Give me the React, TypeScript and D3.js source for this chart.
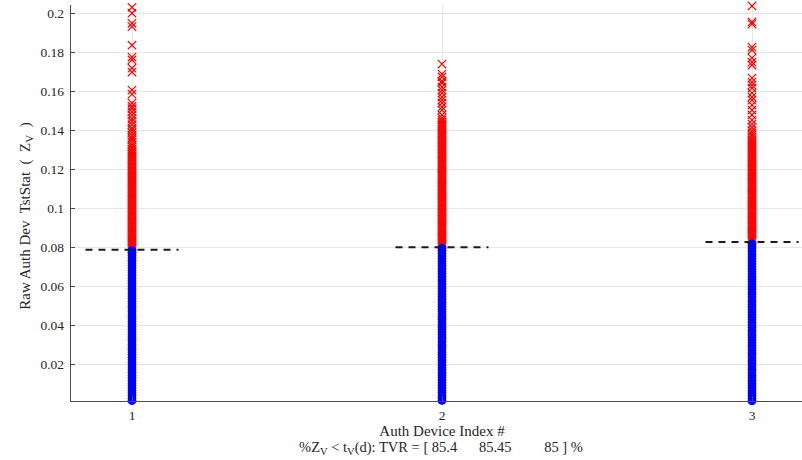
import React from "react";
import * as d3 from "d3";

// Device indices and per-device decision thresholds t_V(d)
const DEVICES = [1, 2, 3];
const THRESHOLDS = [0.0788, 0.08, 0.0827];
const TVR = [85.4, 85.45, 85];

const X_TICKS = [1, 2, 3];
const Y_TICKS = [0.02, 0.04, 0.06, 0.08, 0.1, 0.12, 0.14, 0.16, 0.18, 0.2];

// Raw test statistics Z_V per device, in units of 1e-3.
// "accepted" = below the device threshold, "rejected" = above it.
const ACCEPTED_1 = [
  1.4, 2.6, 4.1, 5.3, 6.5, 7.9, 9.2, 10.4, 11.8, 13.1, 14.3, 15.8, 17.0, 18.2, 19.7, 21.0, 22.3, 23.5, 24.9, 26.2,
  27.6, 28.8, 30.1, 31.5, 32.7, 34.0, 35.4, 36.7, 38.0, 39.3, 40.6, 41.9, 43.3, 44.5, 45.8, 47.2, 48.5, 49.7, 51.1,
  52.4, 53.8, 55.0, 56.3, 57.7, 58.9, 60.2, 61.6, 62.9, 64.1, 65.5, 66.8, 68.0, 69.4, 70.7, 72.0, 73.3, 74.6, 75.9,
  77.2, 78.5,
];
const REJECTED_1 = [
  79.1, 79.9, 80.8, 81.6, 82.5, 83.3, 84.1, 85.0, 85.8, 86.7, 87.5, 88.3, 89.2, 90.0, 90.9, 91.7, 92.5, 93.4, 94.2,
  95.1, 95.9, 96.7, 97.6, 98.4, 99.3, 100.1, 100.9, 101.8, 102.6, 103.5, 104.3, 105.1, 106.0, 106.8, 107.7, 108.5,
  109.3, 110.2, 111.0, 111.9, 112.7, 113.5, 114.4, 115.2, 116.1, 116.9, 117.7, 118.6, 119.4, 120.3, 121.1, 121.9,
  122.8, 123.6, 124.5, 125.3, 126.1, 127.0, 127.8, 128.7, 129.5, 130.4, 131.6, 132.5, 133.9, 135.2, 136.1, 137.4,
  138.8, 140.3, 141.2, 142.9, 144.6, 146.0, 147.8, 149.5, 151.2, 152.4, 154.0, 158.6, 160.7, 169.9, 171.9, 176.1,
  177.6, 183.7, 193.2, 194.9, 200.1, 203.1,
];
const ACCEPTED_2 = [
  1.5, 2.8, 4.0, 5.4, 6.6, 8.0, 9.3, 10.5, 11.9, 13.2, 14.4, 15.7, 17.1, 18.3, 19.6, 21.0, 22.2, 23.6, 24.9, 26.1,
  27.5, 28.8, 30.0, 31.4, 32.6, 33.9, 35.3, 36.5, 37.8, 39.2, 40.4, 41.7, 43.1, 44.3, 45.6, 47.0, 48.2, 49.5, 50.9,
  52.1, 53.4, 54.8, 56.0, 57.3, 58.7, 59.9, 61.2, 62.6, 63.8, 65.1, 66.5, 67.7, 69.0, 70.4, 71.6, 72.9, 74.3, 75.5,
  76.8, 78.2, 79.6,
];
const REJECTED_2 = [
  80.5, 81.3, 82.2, 83.0, 83.9, 84.7, 85.6, 86.4, 87.3, 88.1, 89.0, 89.8, 90.7, 91.5, 92.4, 93.2, 94.1, 94.9, 95.8,
  96.6, 97.5, 98.3, 99.2, 100.0, 100.9, 101.7, 102.6, 103.4, 104.3, 105.1, 106.0, 106.8, 107.7, 108.5, 109.4, 110.2,
  111.1, 111.9, 112.8, 113.6, 114.5, 115.3, 116.2, 117.0, 117.9, 118.7, 119.6, 120.4, 121.3, 122.1, 123.0, 123.8,
  124.7, 125.5, 126.4, 127.2, 128.1, 128.9, 129.8, 130.6, 131.5, 132.3, 133.2, 134.0, 134.9, 135.7, 136.6, 137.4,
  138.3, 139.1, 140.0, 140.8, 141.7, 142.5, 143.4, 144.2, 145.3, 146.3, 147.9, 150.4, 152.0, 154.0, 155.5, 157.1,
  159.1, 160.7, 162.2, 164.3, 165.3, 167.4, 168.9, 174.0,
];
const ACCEPTED_3 = [
  1.3, 2.5, 3.9, 5.2, 6.4, 7.8, 9.1, 10.3, 11.7, 13.0, 14.2, 15.6, 16.9, 18.1, 19.5, 20.8, 22.0, 23.4, 24.7, 25.9,
  27.3, 28.6, 29.8, 31.2, 32.5, 33.7, 35.1, 36.4, 37.6, 39.0, 40.3, 41.5, 42.9, 44.2, 45.4, 46.8, 48.1, 49.3, 50.7,
  52.0, 53.2, 54.6, 55.9, 57.1, 58.5, 59.8, 61.0, 62.4, 63.7, 64.9, 66.3, 67.6, 68.8, 70.2, 71.5, 72.7, 74.1, 75.4,
  76.6, 78.0, 79.3, 80.5, 81.9,
];
const REJECTED_3 = [
  83.2, 84.0, 84.9, 85.7, 86.6, 87.4, 88.3, 89.1, 90.0, 90.8, 91.7, 92.5, 93.4, 94.2, 95.1, 95.9, 96.8, 97.6, 98.5,
  99.3, 100.2, 101.0, 101.9, 102.7, 103.6, 104.4, 105.3, 106.1, 107.0, 107.8, 108.7, 109.5, 110.4, 111.2, 112.1,
  112.9, 113.8, 114.6, 115.5, 116.3, 117.2, 118.0, 118.9, 119.7, 120.6, 121.4, 122.3, 123.1, 124.0, 124.8, 125.7,
  126.5, 127.4, 128.2, 129.1, 129.9, 130.8, 131.6, 132.5, 133.3, 134.4, 135.2, 136.3, 137.5, 138.6, 139.9, 141.5,
  143.2, 145.3, 147.9, 150.4, 153.0, 155.5, 157.1, 159.1, 161.7, 163.2, 164.8, 166.8, 173.5, 175.0, 177.1, 181.2,
  182.7, 194.5, 195.6, 203.8,
];

const ACCEPTED = [ACCEPTED_1, ACCEPTED_2, ACCEPTED_3];
const REJECTED = [REJECTED_1, REJECTED_2, REJECTED_3];

const W = 802;
const H = 460;
const LEFT = 70;
const BOTTOM = 401;
const TOP = 5;

const FONT = "'Liberation Serif', 'Times New Roman', serif";
const TEXT = "#262626";

export default function App() {
  const x = d3.scaleLinear().domain([0.8, 3.2]).range([LEFT, 814]);
  const y = d3.scaleLinear().domain([0.0012, 0.2043]).range([BOTTOM, TOP]);

  const cross = "M-4.2,-4.2L4.2,4.2M-4.2,4.2L4.2,-4.2";
  const threshLine = d3.line<[number, number]>().x((d) => x(d[0])).y((d) => y(d[1]));

  const tvrText = `(d): TVR = [ ${TVR[0]}      ${TVR[1]}         ${TVR[2]} ] %`;

  return (
    <svg
      width={W}
      height={H}
      style={{ position: "absolute", left: 0, top: 0, background: "#fff" }}
      fontFamily={FONT}
    >
      <rect width={W} height={H} fill="#fff" />
      {/* grid */}
      <g stroke="#e6e6e6" strokeWidth={1}>
        {Y_TICKS.map((t) => (
          <line key={"gy" + t} x1={LEFT} x2={W} y1={Math.round(y(t)) + 0.5} y2={Math.round(y(t)) + 0.5} />
        ))}
        {X_TICKS.map((t) => (
          <line key={"gx" + t} x1={Math.round(x(t)) + 0.5} x2={Math.round(x(t)) + 0.5} y1={TOP} y2={BOTTOM} />
        ))}
      </g>

      {/* rejected samples (above threshold) */}
      {REJECTED.map((vals, i) => (
        <g key={"r" + i} stroke="#ff0000" strokeWidth={1.2} fill="none">
          {vals.map((v, j) => (
            <path key={j} d={cross} transform={`translate(${x(DEVICES[i])},${y(v / 1000)})`} />
          ))}
        </g>
      ))}

      {/* accepted samples (below threshold) */}
      {ACCEPTED.map((vals, i) => (
        <g key={"a" + i} stroke="#0000ff" strokeWidth={1} fill="#0000ff">
          {vals.map((v, j) => (
            <circle key={j} cx={x(DEVICES[i])} cy={y(v / 1000)} r={3.9} />
          ))}
        </g>
      ))}

      {/* per-device thresholds */}
      {THRESHOLDS.map((t, i) => (
        <path
          key={"t" + i}
          d={threshLine([
            [DEVICES[i] - 0.15, t],
            [DEVICES[i] + 0.15, t],
          ]) as string}
          stroke="#1a1a1a"
          strokeWidth={2}
          strokeDasharray="7 6"
          fill="none"
        />
      ))}

      {/* axes */}
      <g stroke="#4d4d4d" strokeWidth={1}>
        <line x1={LEFT + 0.5} x2={LEFT + 0.5} y1={TOP} y2={BOTTOM + 0.5} />
        <line x1={LEFT} x2={W} y1={BOTTOM + 0.5} y2={BOTTOM + 0.5} />
        {Y_TICKS.map((t) => (
          <line key={"ty" + t} x1={LEFT} x2={LEFT + 5} y1={Math.round(y(t)) + 0.5} y2={Math.round(y(t)) + 0.5} />
        ))}
        {X_TICKS.map((t) => (
          <line key={"tx" + t} x1={Math.round(x(t)) + 0.5} x2={Math.round(x(t)) + 0.5} y1={BOTTOM} y2={BOTTOM - 5} />
        ))}
      </g>

      {/* tick labels */}
      <g fill={TEXT} fontSize={13.5}>
        {Y_TICKS.map((t) => (
          <text key={"ly" + t} x={64} y={y(t)} dy="0.35em" textAnchor="end">
            {d3.format("~g")(t)}
          </text>
        ))}
        {X_TICKS.map((t) => (
          <text key={"lx" + t} x={x(t)} y={420} textAnchor="middle">
            {t}
          </text>
        ))}
      </g>

      {/* axis titles */}
      <text x={442} y={436} textAnchor="middle" fontSize={15} fill={TEXT}>
        Auth Device Index #
      </text>
      <text x={441} y={452} textAnchor="middle" fontSize={14.5} fill={TEXT} style={{ whiteSpace: "pre" }}>
        <tspan>%Z</tspan>
        <tspan fontSize={10.5} dy={3}>V</tspan>
        <tspan dy={-3}>{" < t"}</tspan>
        <tspan fontSize={10.5} dy={3}>V</tspan>
        <tspan dy={-3}>{tvrText}</tspan>
      </text>
      <text
        transform="translate(30,216) rotate(-90)"
        textAnchor="middle"
        fontSize={15}
        fill={TEXT}
        style={{ whiteSpace: "pre" }}
      >
        <tspan>{"Raw Auth Dev  TstStat  (  Z"}</tspan>
        <tspan fontSize={11} dy={3}>V</tspan>
        <tspan dy={-3}>{"  )"}</tspan>
      </text>
    </svg>
  );
}
